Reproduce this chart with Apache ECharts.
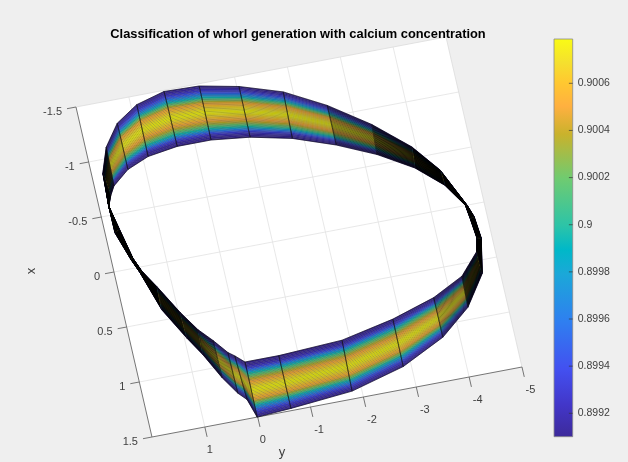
<!DOCTYPE html>
<html>
<head>
<meta charset="utf-8">
<style>html,body{margin:0;padding:0;background:#efefef}#c{width:628px;height:462px}</style>
<script src="https://cdn.jsdelivr.net/npm/echarts@6/dist/echarts.min.js"></script>
</head>
<body>
<div id="c"></div>
<script>
// ---- data ----
const innerX = [1.00,1.00,0.97,0.87,0.75,0.61,0.42,0.30,0.12,0.00,-0.21,-0.41,-0.59,-0.74,-0.87,-0.95,-0.99,-0.99,-0.95,-0.87,-0.75,-0.67,-0.58,-0.36,-0.09,0.04,0.20,0.46,0.64,0.76,0.89,0.93,1.00];
const innerY = [0.00,-0.64,-1.85,-2.86,-3.69,-4.29,-4.66,-4.72,-4.68,-4.65,-4.36,-3.89,-3.26,-2.56,-1.79,-1.03,-0.31,0.33,0.90,1.32,1.64,1.74,1.82,1.72,1.60,1.49,1.28,0.97,0.72,0.49,0.27,0.16,0.00];
const outerX = [1.50,1.48,1.43,1.30,1.11,0.89,0.62,0.31,0.11,0.00,-0.35,-0.60,-0.86,-1.10,-1.29,-1.41,-1.48,-1.49,-1.42,-1.29,-1.10,-0.88,-0.58,-0.34,-0.08,0.05,0.41,0.70,0.87,1.10,1.26,1.33,1.50];
const outerY = [0.01,-0.64,-1.82,-2.85,-3.69,-4.27,-4.67,-4.80,-4.76,-4.68,-4.34,-3.92,-3.29,-2.56,-1.82,-1.04,-0.32,0.34,0.89,1.32,1.62,1.79,1.82,1.82,1.64,1.53,1.29,0.95,0.73,0.48,0.26,0.12,0.01];
const rowValues = [0.89910,0.89912,0.89915,0.89922,0.89932,0.89944,0.89961,0.89978,0.89995,0.90008,0.90018,0.90028,0.90037,0.90044,0.90050,0.90057,0.90062,0.90067,0.90072,0.90076,0.90079,0.90077,0.90074,0.90069,0.90064,0.90059,0.90054,0.90047,0.90035,0.90023,0.90011,0.89995,0.89979,0.89966,0.89952,0.89940,0.89930,0.89922,0.89915,0.89912,0.89910];
const xTicks = [-1.5,-1,-0.5,0,0.5,1,1.5];
const yTicks = [1,0,-1,-2,-3,-4,-5];
const barTicks = [0.8992,0.8994,0.8996,0.8998,0.9,0.9002,0.9004,0.9006];
const barRange = [0.8991007,0.900788];
const titleText = 'Classification of whorl generation with calcium concentration';

// ---- colour scale ----
const colormap = [
 [0,'#3d2a9a'],[0.08,'#4236c8'],[0.17,'#4350f0'],[0.29,'#2f7ff0'],[0.41,'#1ba8d8'],[0.47,'#00b8c8'],
 [0.53,'#2cc4a8'],[0.65,'#70cb70'],[0.76,'#c9b22c'],[0.83,'#ffb040'],[0.89,'#ffc830'],[0.94,'#f5e02e'],[1,'#f9fb15']];
function colorOf(v){
  const t=Math.max(0,Math.min(1,(v-barRange[0])/(barRange[1]-barRange[0])));
  for(let i=1;i<colormap.length;i++){
    if(t<=colormap[i][0]){
      const a=colormap[i-1],b=colormap[i];
      return echarts.color.lerp((t-a[0])/(b[0]-a[0]),[a[1],b[1]]);
    }
  }
  return colormap[colormap.length-1][1];
}

// ---- 3-D view, seen from above: data (x,y) to figure position ----
const view = {ox:219.7, oy:252, xx:25.33, xy:110, yx:-52.86, yy:10};
const xLim=[-1.5,1.5], yLim=[-5,2];
function place(api,x,y){
  return api.coord([view.ox+x*view.xx+y*view.yx, view.oy+x*view.xy+y*view.yy]);
}
const FONT='11px "Liberation Sans", Arial, sans-serif';
const TICK='#404040';

function line(a,b,color,w){
  return {type:'line',shape:{x1:a[0],y1:a[1],x2:b[0],y2:b[1]},style:{stroke:color,lineWidth:w,fill:null},silent:true};
}
function renderPanel(params,api){
  const kids=[];
  const c=[place(api,xLim[0],yLim[1]),place(api,xLim[0],yLim[0]),place(api,xLim[1],yLim[0]),place(api,xLim[1],yLim[1])];
  kids.push({type:'polygon',shape:{points:c},style:{fill:'#fff',stroke:null}});
  xTicks.forEach(v=>{ if(v>xLim[0]&&v<xLim[1]) kids.push(line(place(api,v,yLim[1]),place(api,v,yLim[0]),'#e2e2e2',0.8)); });
  yTicks.forEach(v=>{ if(v>yLim[0]&&v<yLim[1]) kids.push(line(place(api,xLim[0],v),place(api,xLim[1],v),'#e2e2e2',0.8)); });
  kids.push(line(c[0],c[1],'#dcdcdc',0.8));
  kids.push(line(c[1],c[2],'#dcdcdc',0.8));
  kids.push(line(c[0],c[3],'#666',0.9));
  kids.push(line(c[3],c[2],'#666',0.9));
  xTicks.forEach(v=>{
    const a=place(api,v,yLim[1]),b=place(api,v,yLim[1]+0.17);
    kids.push(line(a,b,'#666',0.9));
    kids.push({type:'text',style:{text:String(v),x:b[0]-5,y:b[1]+3,font:FONT,fill:TICK,align:'right',verticalAlign:'middle'}});
  });
  yTicks.forEach(v=>{
    const a=place(api,xLim[1],v),b=place(api,xLim[1]+0.09,v);
    kids.push(line(a,b,'#666',0.9));
    kids.push({type:'text',style:{text:String(v),x:a[0]+5+(v<0?3.5:0),y:a[1]+23,font:FONT,fill:TICK,align:'center',verticalAlign:'middle'}});
  });
  return {type:'group',children:kids};
}
function renderSegment(params,api){
  const i=params.dataIndex;
  const rows=rowValues.length;
  const edge=(j,r)=>{
    const f=r/(rows-1);
    return place(api,innerX[j]+(outerX[j]-innerX[j])*f,innerY[j]+(outerY[j]-innerY[j])*f);
  };
  const kids=[];
  for(let r=0;r<rows-1;r++){
    const col=colorOf(rowValues[r]);
    kids.push({type:'polygon',shape:{points:[edge(i,r),edge(i+1,r),edge(i+1,r+1),edge(i,r+1)]},style:{fill:col,stroke:col,lineWidth:0.3},silent:true});
  }
  // rows crowd together where the band turns edge-on: the mesh goes solid black there
  const span=j=>{const a=edge(j,0),b=edge(j,rows-1);return Math.hypot(a[0]-b[0],a[1]-b[1]);};
  const spacing=(span(i)+span(i+1))/2/(rows-1);
  const w=Math.min(1,Math.max(0.34,0.34+(1.1-spacing)*1.1));
  for(let r=0;r<rows;r++){
    kids.push(line(edge(i,r),edge(i+1,r),'rgba(0,0,0,0.85)',r===0||r===rows-1?0.7:w));
  }
  kids.push(line(edge(i,0),edge(i,rows-1),'#111',0.7));
  kids.push(line(edge(i+1,0),edge(i+1,rows-1),'#111',0.7));
  return {type:'group',children:kids};
}
function renderBar(params,api){
  const a=api.coord([0,barRange[1]]),b=api.coord([1,barRange[0]]);
  const stops=colormap.map(s=>({offset:1-s[0],color:s[1]})).reverse();
  const kids=[{type:'rect',shape:{x:a[0],y:a[1],width:b[0]-a[0],height:b[1]-a[1]},
    style:{fill:new echarts.graphic.LinearGradient(0,0,0,1,stops),stroke:'#8a8a8a',lineWidth:0.8},silent:true}];
  barTicks.forEach(v=>{
    const p=api.coord([1,v]);
    kids.push(line(p,[p[0]-3.8,p[1]],'rgba(50,50,50,0.75)',0.9));
  });
  return {type:'group',children:kids};
}
const segments=innerX.slice(0,-1).map((v,i)=>[v,innerY[i],outerX[i],outerY[i]]);

const chart=echarts.init(document.getElementById('c'),null,{renderer:'canvas'});
chart.setOption({
  animation:false,
  backgroundColor:'#efefef',
  title:{text:titleText,left:293,top:23,textAlign:'center',
    textStyle:{fontFamily:'"Liberation Sans", Arial, sans-serif',fontWeight:'bold',fontSize:12.85,color:'#000'}},
  grid:[
    {left:0,top:0,width:628,height:462,show:false},
    {left:554,top:39,width:18.7,height:397.7,show:false}
  ],
  xAxis:[
    {gridIndex:0,type:'value',min:0,max:628,show:false},
    {gridIndex:1,type:'value',min:0,max:1,show:false}
  ],
  yAxis:[
    {gridIndex:0,type:'value',min:0,max:462,inverse:true,show:false},
    {gridIndex:1,type:'value',min:barRange[0],max:barRange[1],position:'right',
      axisLine:{show:false},splitLine:{show:false},axisTick:{show:false},
      axisLabel:{show:true,customValues:barTicks,margin:5,color:TICK,fontSize:10.5,fontFamily:'"Liberation Sans", Arial, sans-serif',
        formatter:v=>String(parseFloat((+v).toFixed(4)))}}
  ],
  series:[
    {type:'custom',name:'axes',coordinateSystem:'cartesian2d',xAxisIndex:0,yAxisIndex:0,silent:true,clip:false,data:[[0,0]],renderItem:renderPanel,z:1},
    {type:'custom',name:'surface',coordinateSystem:'cartesian2d',xAxisIndex:0,yAxisIndex:0,silent:true,clip:false,data:segments,renderItem:renderSegment,z:2},
    {type:'custom',name:'colorbar',coordinateSystem:'cartesian2d',xAxisIndex:1,yAxisIndex:1,silent:true,data:[[0,barRange[0]]],renderItem:renderBar,z:2}
  ],
  graphic:[
    {type:'text',x:31,y:271,rotation:Math.PI/2,style:{text:'x',font:'13px "Liberation Sans", Arial, sans-serif',fill:TICK,align:'center',verticalAlign:'middle'}},
    {type:'text',x:282,y:452,style:{text:'y',font:'13px "Liberation Sans", Arial, sans-serif',fill:TICK,align:'center',verticalAlign:'middle'}}
  ]
});
</script>
</body>
</html>
